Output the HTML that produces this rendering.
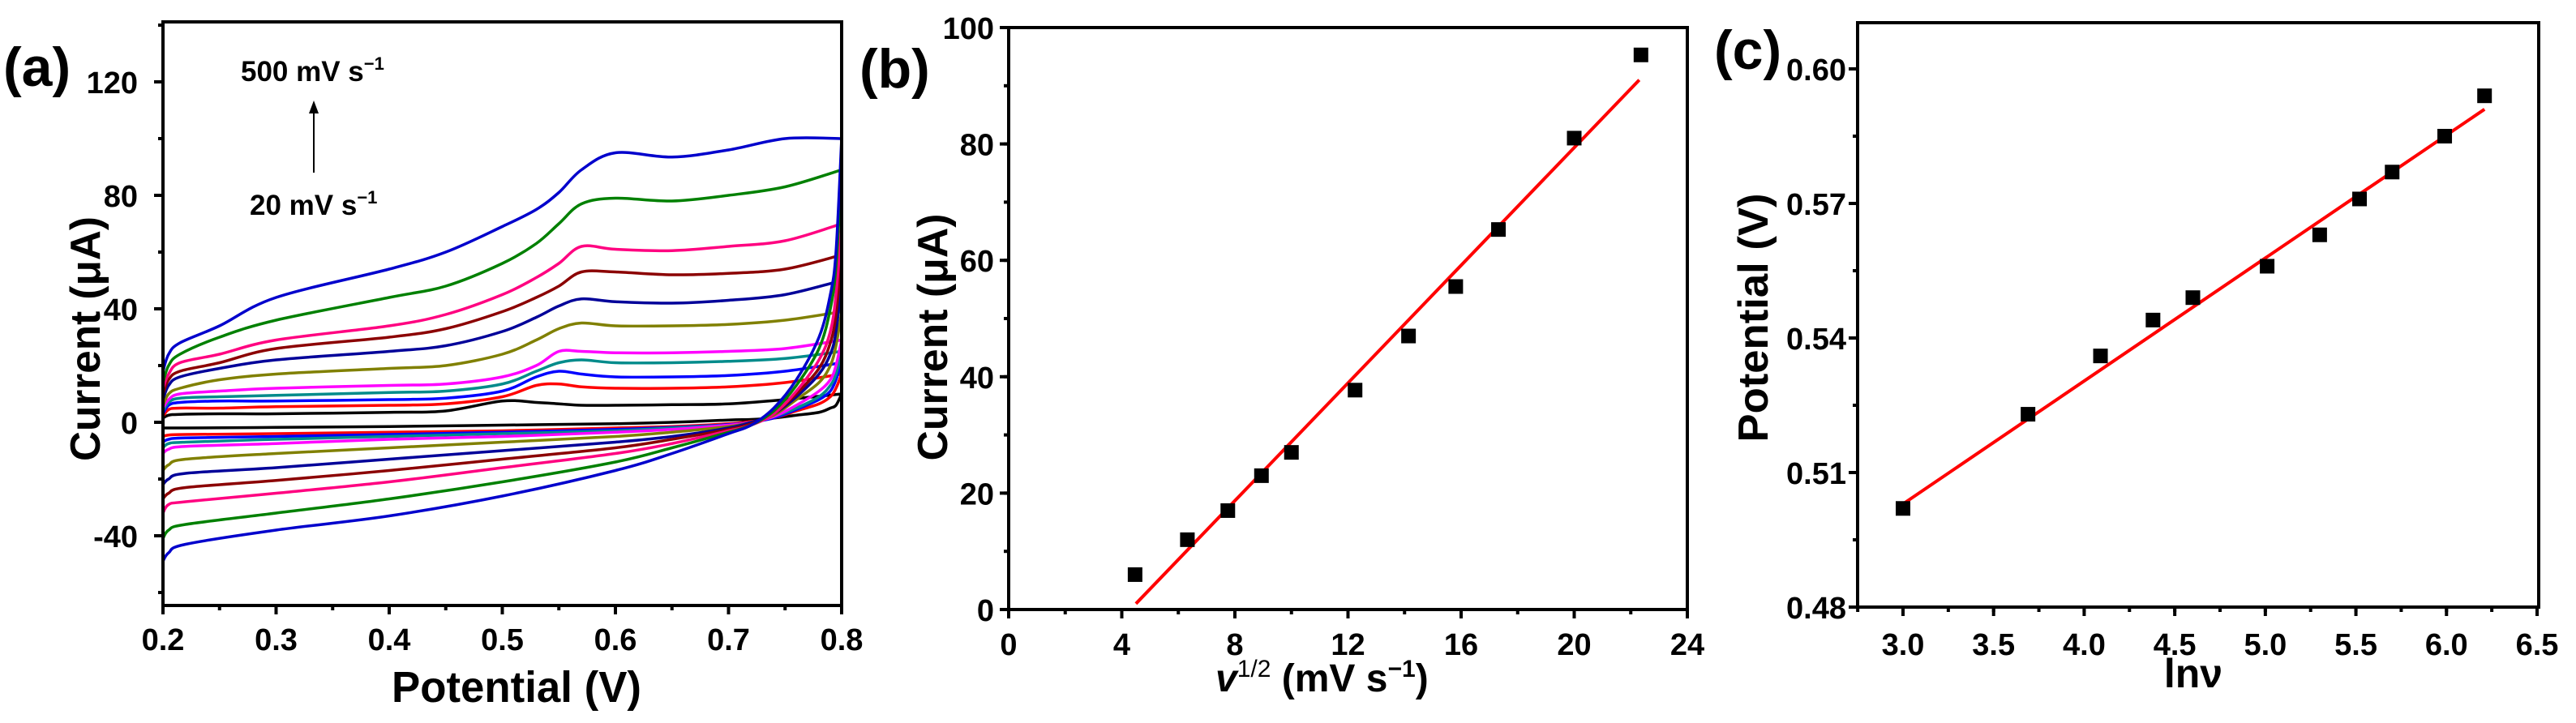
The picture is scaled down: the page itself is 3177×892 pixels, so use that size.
<!DOCTYPE html>
<html><head><meta charset="utf-8"><style>
html,body{margin:0;padding:0;background:#fff}
svg{display:block}
text{font-family:"Liberation Sans",Arial,sans-serif;font-weight:bold;fill:#000}
</style></head><body>
<svg id="fig" width="3177" height="892" viewBox="0 0 3177 892" xmlns="http://www.w3.org/2000/svg"></svg>
<script>
// ---------- Panel (a) data ----------
const cvFwdX = [0.2,0.205,0.215,0.25,0.3,0.4,0.45,0.5,0.53,0.55,0.57,0.6,0.65,0.7,0.75,0.8];
const cvRevX = [0.8,0.795,0.79,0.78,0.76,0.74,0.72,0.7,0.65,0.6,0.5,0.4,0.3,0.22,0.205,0.2];
const cvRates = [20,40,60,80,100,150,200,250,300,400,500];
const cvColors = ["#000000","#ff0000","#0000ff","#008b8b","#ff00ff","#808000","#000099","#8b0000","#ff0080","#008000","#0000cc"];
const cvFwd = [
 [1.5,2.5,2.8,3,3,3.5,4,7.5,7,6.5,6,6,6.2,6.5,8,10],
 [2,4.5,5,5,5.5,6,6.5,9,13,13.5,12.5,12,12,12.5,14,17],
 [3,6,7,7.5,7.5,8,8.5,11,16,18,17,16,16,16.5,18,21],
 [4,7,8.5,9,9.5,10.5,11,13.5,18,21,22,21,21,21.5,22.5,25],
 [5,8,10,11,12,13,13.5,16,20,25,25,24.5,24.5,25,26,29],
 [6,10,12,15,17,19,20,24,29,33,35,34,34,34.5,36,39],
 [8,13,16,19,22,25,27,32,37,41,43.5,42.5,42,43,45,50],
 [10,15,18,21,26,30,33,39,44,48,53,53,52,52.5,54,59],
 [12,17,21,24,29,34,38,45,51,56,62,61,60.5,62,64,70],
 [14,20,24,30,36,44,48,56,63,70,77,79,78,80,83,89],
 [18,24,28,34,44,54,60,69,75,81,89,95,93.5,96,100,100]
];
const cvRev = [
 [10,6,5,3.5,2.5,1.5,1,0.8,0,-0.5,-1,-1.5,-1.8,-2,-2,-2],
 [17,12,9,6.5,4,1.5,0.3,-0.5,-1.5,-2,-3,-3.5,-4,-4.3,-4.5,-5],
 [21,15,11,8,4.5,1.5,0,-0.8,-1.8,-2.5,-3.5,-4.3,-5,-5.5,-6,-7],
 [25,17,13,9,5,2,0,-1,-2,-3,-4,-5,-6,-7,-7.5,-9],
 [29,20,15,11,6,2,0,-1,-2.5,-3.5,-5,-6,-7.5,-8.5,-9.5,-11],
 [39,27,20,14,8,2.5,0,-1.5,-3.5,-5,-7,-9,-11,-13,-15,-17],
 [50,32,24,17,9,3,0,-2,-5,-7,-10,-13,-16,-18,-20,-22],
 [59,38,28,19,10,3,-0.5,-2.5,-6,-9,-13,-17,-20.5,-23,-25,-27],
 [70,45,32,22,11,3,-1,-3,-7.5,-11,-16,-21,-25,-28,-29,-32],
 [89,55,40,26,13,4,-1,-3.5,-9,-14,-21,-27,-32,-36,-38,-41],
 [100,60,45,30,15,5,-1,-4,-11,-17,-26,-33,-38,-43,-46,-49]
];
const aXTicks = ["0.2","0.3","0.4","0.5","0.6","0.7","0.8"];
const aYTicks = ["-40","0","40","80","120"];
// ---------- Panel (b) data ----------
const bX = [4.47,6.32,7.75,8.94,10,12.25,14.14,15.81,17.32,20,22.36];
const bY = [6,12,17,23,27,37.7,47,55.5,65.3,81,95.3];
const bFitX = [4.5,22.3];
const bFitY = [1,91];
const bXTicks = ["0","4","8","12","16","20","24"];
const bYTicks = ["0","20","40","60","80","100"];
// ---------- Panel (c) data ----------
const cX = [3.0,3.69,4.09,4.38,4.6,5.01,5.3,5.52,5.7,5.99,6.21];
const cY = [0.502,0.523,0.536,0.544,0.549,0.556,0.563,0.571,0.577,0.585,0.594];
const cFitX = [3.0,6.21];
const cFitY = [0.503,0.591];
const cXTicks = ["3.0","3.5","4.0","4.5","5.0","5.5","6.0","6.5"];
const cYTicks = ["0.48","0.51","0.54","0.57","0.60"];

const NS="http://www.w3.org/2000/svg";
const svg=document.getElementById('fig');
function mk(tag,attrs,parent){const e=document.createElementNS(NS,tag);for(const k in attrs)e.setAttribute(k,attrs[k]);(parent||svg).appendChild(e);return e;}
function txt(s,attrs,parent){const e=mk('text',attrs,parent);e.textContent=s;return e;}
function lin(d0,d1,r0,r1){return v=>r0+(v-d0)/(d1-d0)*(r1-r0);}

function axes(g,L,R,T,B,xs,ys,xTicks,yTicks,xMinor,yMinor,xMin,xMax,yMin,yMax,xLabY,yLabX){
  const fr=mk('rect',{x:L,y:T,width:R-L,height:B-T,fill:'none',stroke:'#000','stroke-width':4},g);
  
  
  xTicks.forEach(t=>{const v=parseFloat(t);const x=xs(v);
    const tk=mk('line',{x1:x,y1:B,x2:x,y2:B+11,stroke:'#000','stroke-width':4},g);
    
    
    const lb=txt(t,{x:x,y:xLabY,'font-size':38,'text-anchor':'middle'},g);
    
    });
  for(let v=xMin;v<=xMax+1e-9;v+=xMinor){const x=xs(v);
    const tk=mk('line',{x1:x,y1:B,x2:x,y2:B+6,stroke:'#000','stroke-width':4},g);
    
    }
  yTicks.forEach(t=>{const v=parseFloat(t);const y=ys(v);
    const tk=mk('line',{x1:L,y1:y,x2:L-11,y2:y,stroke:'#000','stroke-width':4},g);
    
    
    const lb=txt(t,{x:yLabX,y:y+14,'font-size':38,'text-anchor':'end'},g);
    
    });
  for(let v=yMin;v<=yMax+1e-9;v+=yMinor){const y=ys(v);
    const tk=mk('line',{x1:L,y1:y,x2:L-6,y2:y,stroke:'#000','stroke-width':4},g);
    
    }
}
function smooth(pts){let d='M'+pts[0][0]+','+pts[0][1];
  for(let i=0;i<pts.length-1;i++){const p0=pts[i-1]||pts[i],p1=pts[i],p2=pts[i+1],p3=pts[i+2]||p2;
    const c1=[p1[0]+(p2[0]-p0[0])/6,p1[1]+(p2[1]-p0[1])/6],c2=[p2[0]-(p3[0]-p1[0])/6,p2[1]-(p3[1]-p1[1])/6];
    d+=' C'+c1[0]+','+c1[1]+' '+c2[0]+','+c2[1]+' '+p2[0]+','+p2[1];}
  return d;}

// ===== Panel a =====
(function(){
 const g=mk('g',{});
 
 
 const L=201,R=1038,T=27,B=747;
 const xs=lin(0.2,0.8,L,R), ys=lin(0,120,521,101);
 const cp=mk('clipPath',{id:'clipA'},g);mk('rect',{x:L,y:T,width:R-L,height:B-T},cp);
 const cg=mk('g',{'clip-path':'url(#clipA)'},g);
 cvFwd.forEach((f,i)=>{
   const fp=cvFwdX.map((x,j)=>[xs(x),ys(f[j])]);
   const rp=cvRevX.map((x,j)=>[xs(x),ys(cvRev[i][j])]);
   const p=mk('path',{d:smooth(fp)+' '+smooth(rp).replace('M','L'),fill:'none',stroke:cvColors[i],'stroke-width':3.5,'stroke-linejoin':'round'},cg);
   
   
 });
 axes(g,L,R,T,B,xs,ys,aXTicks,aYTicks,0.05,20,0.2,0.8,-60,140,802,170);
 const pl=txt('(a)',{x:4,y:106,'font-size':68},g);
 
 
 const yt=txt('Current (μA)',{x:0,y:0,'font-size':52,'text-anchor':'middle',textLength:302,lengthAdjust:'spacingAndGlyphs',transform:'translate(123,418) rotate(-90)'},g);
 
 
 const xt=txt('Potential (V)',{x:637,y:866,'font-size':54,'text-anchor':'middle',textLength:308,lengthAdjust:'spacingAndGlyphs'},g);
 
 
 const a1=txt('',{x:297,y:100,'font-size':35},g);a1.innerHTML='500 mV s<tspan dy="-14" font-size="22">−1</tspan>';
 
 
 const a2=txt('',{x:308,y:265,'font-size':35},g);a2.innerHTML='20 mV s<tspan dy="-14" font-size="22">−1</tspan>';
 
 
 const ar=mk('line',{x1:387,y1:213,x2:387,y2:136,stroke:'#000','stroke-width':2},g);
 
 
 const ah=mk('polygon',{points:'387,124 381,140 393,140',fill:'#000'},g);
 
 
})();

// ===== Panel b =====
(function(){
 const g=mk('g',{});
 
 
 const L=1244,R=2081,T=34,B=752;
 const xs=lin(0,24,L,R), ys=lin(0,100,B,T);
 axes(g,L,R,T,B,xs,ys,bXTicks,bYTicks,2,10,0,24,0,100,808,1226);
 const fl=mk('line',{x1:xs(bFitX[0]),y1:ys(bFitY[0]),x2:xs(bFitX[1]),y2:ys(bFitY[1]),stroke:'#ff0000','stroke-width':4},g);
 
 
 bX.forEach((x,i)=>{const r=mk('rect',{x:xs(x)-9,y:ys(bY[i])-9,width:18,height:18,fill:'#000'},g);
   
   });
 const pl=txt('(b)',{x:1060,y:108,'font-size':68},g);
 
 
 const yt=txt('Current (μA)',{x:0,y:0,'font-size':52,'text-anchor':'middle',textLength:305,lengthAdjust:'spacingAndGlyphs',transform:'translate(1168,416) rotate(-90)'},g);
 
 
 const xt=txt('',{x:1499,y:853,'font-size':48},g);
 xt.innerHTML='<tspan font-style="italic">v</tspan><tspan dy="-18" font-size="30" font-weight="normal">1/2</tspan><tspan dy="18"> (mV s</tspan><tspan dy="-18" font-size="30">−1</tspan><tspan dy="18">)</tspan>';
 
 
})();

// ===== Panel c =====
(function(){
 const g=mk('g',{});
 
 
 const L=2291,R=3131,T=28,B=749;
 const xs=lin(3.0,6.5,2347,3129), ys=lin(0.48,0.60,B,85);
 axes(g,L,R,T,B,xs,ys,cXTicks,cYTicks,0.25,0.015,2.75,6.5,0.48,0.61,808,2277);
 const fl=mk('line',{x1:xs(cFitX[0]),y1:ys(cFitY[0]),x2:xs(cFitX[1]),y2:ys(cFitY[1]),stroke:'#ff0000','stroke-width':4},g);
 
 
 cX.forEach((x,i)=>{const r=mk('rect',{x:xs(x)-9,y:ys(cY[i])-9,width:18,height:18,fill:'#000'},g);
   
   });
 const pl=txt('(c)',{x:2114,y:85,'font-size':68},g);
 
 
 const yt=txt('Potential (V)',{x:0,y:0,'font-size':52,'text-anchor':'middle',textLength:307,lengthAdjust:'spacingAndGlyphs',transform:'translate(2180,392) rotate(-90)'},g);
 
 
 const xt=txt('lnν',{x:2705,y:848,'font-size':50,'text-anchor':'middle'},g);
 
 
})();
</script>
</body></html>
